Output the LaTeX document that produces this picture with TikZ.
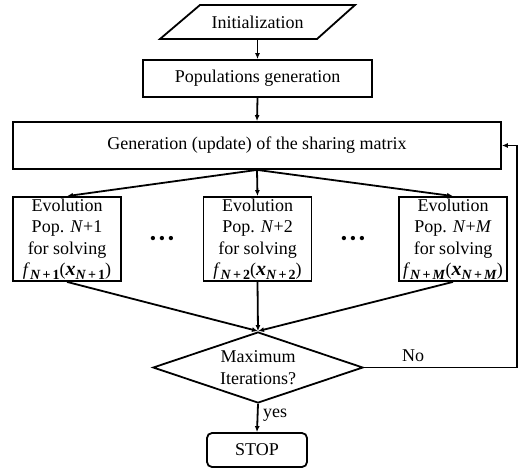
\documentclass[tikz,border=0pt]{standalone}
\usepackage{fontspec}
\setmainfont{Liberation Serif}
\usetikzlibrary{shapes.geometric,arrows.meta}
\newcommand\fsub[1]{\raisebox{-3.5pt}{\fontsize{14}{14}\selectfont\bfseries\textit{N}\hspace{2pt}+\hspace{2pt}#1}}
\newcommand\fexpr[1]{\textit{f}\fsub{#1}({\fontsize{20}{20}\selectfont\textbf{\textit{x}}}\fsub{#1})}
\begin{document}
\begin{tikzpicture}[x=1pt,y=-1pt,
  font=\fontsize{18}{21.5}\selectfont,
  line width=1.8pt,
  >={Latex[length=6pt,width=5pt]},
  box/.style={draw, rectangle, inner sep=0pt, align=center},
  evo/.style={box, minimum width=108pt, minimum height=84pt},
  lbl/.style={inner sep=0pt}]
\useasboundingbox (0,0) rectangle (521,474);
% parallelogram
\draw (160,39) -- (200,5) -- (355,5) -- (317,39) -- cycle;
\node[inner sep=0pt, minimum width=150pt, minimum height=34pt] (init) at (257.5,22) {Initialization};
\node[box, minimum width=229pt, minimum height=37pt] (pop) at (257.5,78.5) {Populations generation};
\node[box, minimum width=488pt, minimum height=47pt] (share) at (257,145.5) {Generation (update) of the sharing matrix};
\node[evo] (e1) at (67,239) {Evolution\\Pop. \textit{N}+1\\for solving\\\fexpr{1}};
\node[evo] (e2) at (257.5,239) {Evolution\\Pop. \textit{N}+2\\for solving\\\fexpr{2}};
\node[evo] (e3) at (453,239) {Evolution\\Pop. \textit{N}+\textit{M}\\for solving\\\fexpr{\textit{M}}};
\node[lbl] (d1) at (162,240) {•\hspace{2.7pt}•\hspace{2.7pt}•};
\node[lbl] (d2) at (353,240) {•\hspace{2.7pt}•\hspace{2.7pt}•};
\node[draw, diamond, aspect=3, inner sep=0pt, minimum width=210pt, minimum height=71pt, align=center] (dia) at (258,367.5) {Maximum\\Iterations?};
\node[box, rounded corners=5pt, minimum width=100pt, minimum height=34pt] (stop) at (257,450) {STOP};
\coordinate (fb) at (517,367.5);
\node[lbl] (no) at (413,356) {No};
\node[lbl] (yes) at (275,415) {yes};
% connectors
\draw[->] (init.south) -- (pop.north);
\draw[->] (pop.south) -- (share.north);
\draw[->] (share.south) -- (e1.north);
\draw[->] (share.south) -- (e2.north);
\draw[->] (share.south) -- (e3.north);
\draw[->] (e1.south) -- (dia.north);
\draw[->] (e2.south) -- (dia.north);
\draw[->] (e3.south) -- (dia.north);
\draw[->] (dia.south) -- (stop.north);
\draw (dia.east) -- (fb);
\draw[->] (fb) |- (share.east);
\end{tikzpicture}
\end{document}
